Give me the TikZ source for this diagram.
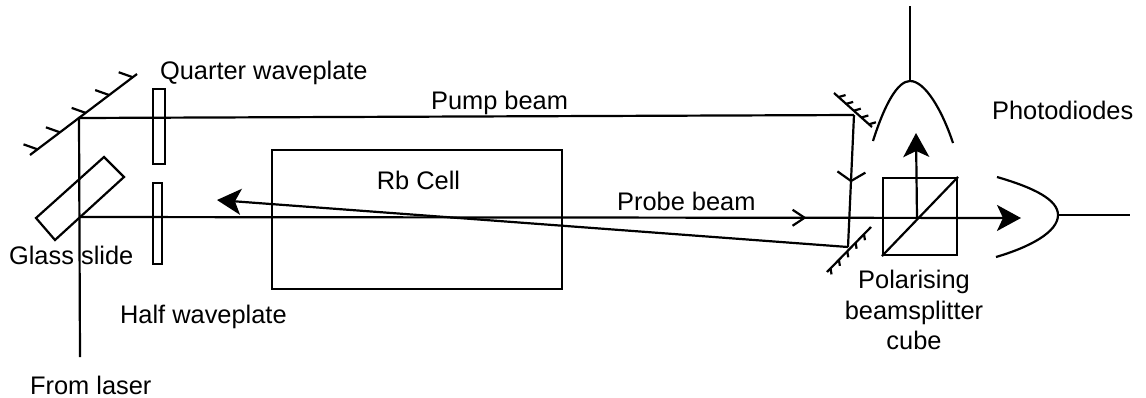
\documentclass[tikz,border=0pt]{standalone}
\usepackage{fontspec}
\setmainfont{Liberation Sans}
\usetikzlibrary{calc}
\usetikzlibrary{arrows.meta}
\usetikzlibrary{decorations.markings}

\tikzset{
	beam/.style={draw=black, line width=1.1pt},
	midarrow/.style n args={3}{postaction={decorate, decoration={markings, mark=at position #1 with {\draw[-] (-#2,#3) -- (0,0) -- (-#2,-#3);}}}},
	bigarrow/.style={-{Stealth[length=12pt, width=13pt, inset=3pt]}},
}

\begin{document}
\begin{tikzpicture}[x=0.5pt, y=-0.5pt, line width=1.1pt, font=\fontsize{12.7}{15.3}\selectfont]
	\tikzstyle{txt}=[inner sep=0pt, align=center]
	\tikzstyle{plate}=[draw=black, rectangle, inner sep=0pt]
	\useasboundingbox (0,0) rectangle (1146,397);

	% beam corners
	\coordinate (laser) at (80,357);
	\coordinate (pumpturn) at (79,118);
	\coordinate (probeturn) at (80,217);
	\coordinate (pumpend) at (854,115);
	\coordinate (returnend) at (848,247);
	\coordinate (split) at (917,218);

	% mirrors
	\coordinate (ma) at (30,155);
	\coordinate (mb) at (137,74);
	\coordinate (mc) at (834,93);
	\coordinate (md) at (872,127);
	\coordinate (me) at (827,272);
	\coordinate (mf) at (871,227);
	\draw (ma) -- (mb);
	\draw (mc) -- (md);
	\draw (me) -- (mf);
	\foreach \t in {0.07,0.28,0.52,0.74,0.96}
		\draw ($(ma)!\t!(mb)$) -- +(-14,-5);
	\foreach \t in {0.12,0.32,0.52,0.72,0.92}
		\draw ($(mc)!\t!(md)$) -- +(7,-2);
	\foreach \t in {0.08,0.27,0.46,0.65,0.84}
		\draw ($(me)!\t!(mf)$) -- +(1,6);

	% optics
	\node[plate, minimum width=6pt, minimum height=37.5pt] (quarter) at (159,126.5) {};
	\node[plate, minimum width=4.5pt, minimum height=40.5pt] (half) at (157.5,223.5) {};
	\node[plate, minimum width=145pt, minimum height=69.5pt] (cell) at (417,219.5) {};
	\node[plate, minimum width=37pt, minimum height=38.5pt] (cube) at (920,216.5) {};
	\draw (cube.south west) -- (cube.north east);
	\coordinate (ga) at (36,218);
	\coordinate (gb) at (104,157);
	\coordinate (gc) at (124,177);
	\coordinate (gd) at (55,240);
	\draw (ga) -- (gb) -- (gc) -- (gd) -- cycle;

	% beams
	\draw[beam] (laser) -- (pumpturn) -- (pumpend);
	\draw[beam, midarrow={0.5}{4.5pt}{7pt}] (pumpend) -- (returnend);
	\coordinate (returntip) at (217,200);
	\draw[beam, bigarrow] (returnend) -- (returntip);
	\coordinate (probetip) at (1021,218);
	\draw[beam, bigarrow, midarrow={0.77}{6pt}{4pt}] (probeturn) -- (probetip);
	\coordinate (uptip) at (916,133);
	\draw[beam, bigarrow] (split) -- (uptip);

	% photodiodes
	\coordinate (toppeak) at (910,81);
	\coordinate (topwire) at (910,6);
	\coordinate (sidepeak) at (1058,215);
	\coordinate (sidewire) at (1130,215);
	\draw (873,141) .. controls (885,103) and (898,81) .. (toppeak) .. controls (925,81) and (942,110) .. (953,143);
	\draw (997,177) .. controls (1035,188) and (1058,200) .. (sidepeak) .. controls (1058,232) and (1030,247) .. (996,257);
	\draw (toppeak) -- (topwire);
	\draw (sidepeak) -- (sidewire);

	% text
	\node[txt, anchor=west] (tquarter) at (159,72.5) {Quarter waveplate};
	\node[txt, anchor=west] (tpump) at (430,103) {Pump beam};
	\node[txt, anchor=west] (tdiodes) at (991,110) {Photodiodes};
	\node[txt] (tcell) at (418.5,180) {Rb Cell};
	\node[txt, anchor=west] (tprobe) at (616,201) {Probe beam};
	\node[txt, anchor=west] (tglass) at (8,255.5) {Glass slide};
	\node[txt, anchor=west] (thalf) at (119,316.5) {Half waveplate};
	\node[txt, anchor=west] (tlaser) at (29,385) {From laser};
	\node[txt] (tcube) at (914,310) {Polarising\\beamsplitter\\cube};
\end{tikzpicture}
\end{document}
